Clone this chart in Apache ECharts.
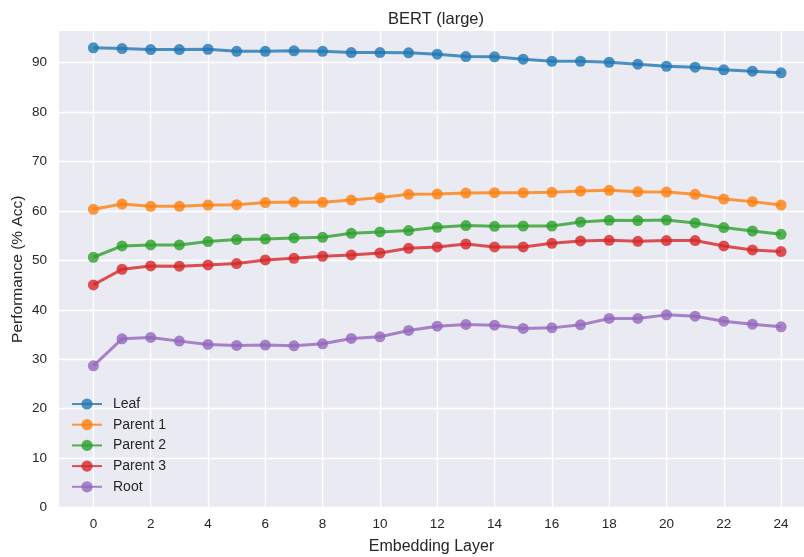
<!DOCTYPE html>
<html>
<head>
<meta charset="utf-8">
<script src="https://cdn.jsdelivr.net/npm/echarts@6/dist/echarts.min.js"></script>
<style>
  html, body { margin: 0; padding: 0; background: #fff; }
  #chart { width: 804px; height: 557px; }
</style>
</head>
<body>
<div id="chart"></div>
<script>
// embedding layers 0..24
var layers = [0, 1, 2, 3, 4, 5, 6, 7, 8, 9, 10, 11, 12, 13, 14, 15, 16, 17, 18, 19, 20, 21, 22, 23, 24];
var xTicks = [0, 2, 4, 6, 8, 10, 12, 14, 16, 18, 20, 22, 24];

var leaf = [92.99, 92.85, 92.65, 92.65, 92.71, 92.30, 92.30, 92.38, 92.30, 92.04, 92.04, 91.98, 91.70,
  91.23, 91.17, 90.69, 90.28, 90.28, 90.08, 89.68, 89.27, 89.07, 88.55, 88.26, 87.94];
var parent1 = [60.32, 61.39, 60.93, 60.93, 61.19, 61.27, 61.68, 61.80, 61.74, 62.20, 62.69, 63.35, 63.41,
  63.62, 63.70, 63.70, 63.76, 64.02, 64.16, 63.90, 63.82, 63.35, 62.40, 61.88, 61.19];
var parent2 = [50.63, 52.91, 53.11, 53.11, 53.80, 54.20, 54.32, 54.53, 54.67, 55.47, 55.74, 56.02, 56.69,
  57.03, 56.89, 56.95, 56.95, 57.76, 58.10, 58.04, 58.16, 57.56, 56.63, 55.94, 55.27];
var parent3 = [45.03, 48.20, 48.87, 48.81, 49.07, 49.35, 50.08, 50.42, 50.83, 51.09, 51.49, 52.44, 52.71,
  53.31, 52.71, 52.71, 53.45, 53.92, 54.06, 53.86, 54.00, 54.00, 52.91, 52.10, 51.78];
var root = [28.67, 34.12, 34.40, 33.66, 32.99, 32.79, 32.85, 32.71, 33.11, 34.20, 34.53, 35.82, 36.69,
  37.03, 36.89, 36.22, 36.34, 36.95, 38.24, 38.24, 38.97, 38.71, 37.70, 37.09, 36.55];

var seriesNames = ['Leaf', 'Parent 1', 'Parent 2', 'Parent 3', 'Root'];
var seriesData = [leaf, parent1, parent2, parent3, root];
var colors = ['#1f77b4', '#ff7f0e', '#2ca02c', '#d62728', '#9467bd'];

var font = 'Liberation Sans, Arial, sans-serif';
var textColor = '#262626';

function pairs(ys) {
  return layers.map(function (x, i) { return [x, ys[i]]; });
}

var chart = echarts.init(document.getElementById('chart'));

var option = {
  backgroundColor: '#fff',
  animation: false,
  textStyle: { fontFamily: font },
  title: {
    text: 'BERT (large)',
    left: 431,
    textAlign: 'center',
    top: 6,
    textStyle: { fontSize: 16.5, fontWeight: 'normal', color: textColor, fontFamily: font }
  },
  grid: {
    left: 59,
    top: 31,
    right: 0,
    bottom: 49.5,
    outerBoundsMode: 'none',
    containLabel: false,
    show: true,
    backgroundColor: '#eaeaf2',
    borderWidth: 0
  },
  legend: {
    orient: 'vertical',
    left: 71,
    top: 397,
    padding: 0,
    itemWidth: 30,
    itemHeight: 14,
    itemGap: 6.7,
    data: seriesNames,
    textStyle: { fontSize: 14, color: textColor, fontFamily: font, padding: [0, 0, 0, 6] }
  },
  xAxis: {
    type: 'value',
    min: -1.2,
    max: 24.8,
    name: 'Embedding Layer',
    nameLocation: 'middle',
    nameGap: 31,
    nameMoveOverlap: false,
    nameTextStyle: { fontSize: 16, color: textColor, fontFamily: font },
    axisLine: { show: false },
    axisTick: { show: false, customValues: xTicks },
    axisLabel: { customValues: xTicks, fontSize: 13.5, color: textColor, margin: 10, fontFamily: font },
    splitLine: { show: true, lineStyle: { color: '#fff', width: 1.3 } }
  },
  yAxis: {
    type: 'value',
    min: 0,
    max: 96.4,
    interval: 10,
    name: 'Performance (% Acc)',
    nameLocation: 'middle',
    nameGap: 33,
    nameMoveOverlap: false,
    nameTextStyle: { fontSize: 15.5, color: textColor, fontFamily: font },
    axisLine: { show: false },
    axisTick: { show: false },
    axisLabel: { fontSize: 13.5, color: textColor, margin: 12, showMaxLabel: false, fontFamily: font },
    splitLine: { show: true, showMaxLine: false, lineStyle: { color: '#fff', width: 1.3 } }
  },
  series: seriesNames.map(function (name, i) {
    return {
      name: name,
      type: 'line',
      data: pairs(seriesData[i]),
      symbol: 'circle',
      symbolSize: 11,
      color: colors[i],
      lineStyle: { width: 3, opacity: 0.8 },
      itemStyle: { opacity: 0.8 },
      z: 2 + i
    };
  })
};

chart.setOption(option);
</script>
</body>
</html>
